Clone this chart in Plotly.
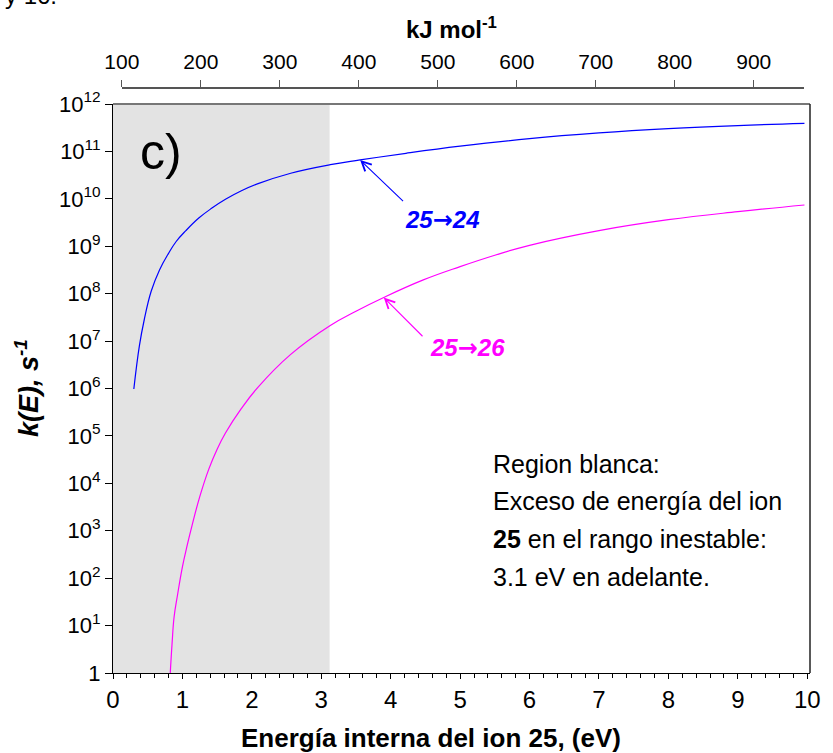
import plotly.graph_objects as go

# ---- data ----
e_24 = [0.30, 0.38, 0.45, 0.55, 0.67, 0.80, 0.91, 1.05, 1.24, 1.42, 1.62, 1.85, 2.09, 2.56,
        3.13, 3.56, 4.22, 5.0, 6.0, 7.0, 8.0, 9.0, 9.96]
logk_24 = [5.99, 6.9, 7.45, 8.05, 8.5, 8.85, 9.1, 9.33, 9.6, 9.8, 9.99, 10.17, 10.32, 10.54,
           10.72, 10.82, 10.96, 11.11, 11.27, 11.39, 11.48, 11.545, 11.59]
e_26 = [0.825, 0.85, 0.88, 0.93, 1.0, 1.07, 1.14, 1.25, 1.38, 1.5, 1.62, 1.85, 2.09, 2.56,
        3.13, 3.5, 3.9, 4.47, 5.0, 5.5, 6.0, 7.0, 8.0, 9.0, 9.96]
logk_26 = [0.0, 0.6, 1.18, 1.65, 2.24, 2.7, 3.12, 3.72, 4.30, 4.72, 5.06, 5.58, 6.03, 6.72,
           7.33, 7.63, 7.92, 8.29, 8.57, 8.81, 9.02, 9.33, 9.56, 9.73, 9.87]
k_24 = [10 ** v for v in logk_24]
k_26 = [10 ** v for v in logk_26]

x_ticks = list(range(0, 11))
y_exps = list(range(0, 13))
y_tickvals = [10 ** p for p in y_exps]
y_ticktext = ["1"] + ["10<sup>%d</sup>" % p for p in y_exps[1:]]
kj_ticks = [100, 200, 300, 400, 500, 600, 700, 800, 900]
unstable_from = 3.12

FONT = "Liberation Sans, Arial, sans-serif"

# layout geometry helpers (pixels -> paper)
L, R, T, B = 113, 14, 88, 80
W, H = 833, 753
PW, PH = W - L - R, H - T - B
def px(x):
    return (x - L) / PW
def py(y):
    return (H - B - y) / PH
plot_top = 104

fig = go.Figure()
fig.add_trace(go.Scatter(x=e_24, y=k_24, mode="lines",
                         line=dict(color="#0000ff", width=1.2, shape="spline", smoothing=1.2),
                         showlegend=False, hoverinfo="skip"))
fig.add_trace(go.Scatter(x=e_26, y=k_26, mode="lines",
                         line=dict(color="#ff00ff", width=1.2, shape="spline", smoothing=1.2),
                         showlegend=False, hoverinfo="skip"))
# invisible trace to carry the top (kJ/mol) axis
fig.add_trace(go.Scatter(x=kj_ticks, y=[1] * len(kj_ticks), xaxis="x2", yaxis="y", mode="markers",
                         marker=dict(opacity=0), showlegend=False, hoverinfo="skip"))

fig.update_layout(
    width=W, height=H,
    margin=dict(l=L, r=R, t=T, b=B),
    paper_bgcolor="white", plot_bgcolor="rgba(0,0,0,0)",
    font=dict(family=FONT, color="black"),
    xaxis=dict(range=[0, 10.04], tickvals=x_ticks, ticks="outside", ticklen=5, tickwidth=1,
               tickcolor="black", showline=True, linecolor="black", linewidth=1,
               showgrid=False, zeroline=False, tickfont=dict(size=24, family=FONT),
               minor=dict(dtick=0.2, ticks="outside", ticklen=4, tickcolor="black", showgrid=False),
               anchor="y"),
    yaxis=dict(type="log", range=[0, 12], domain=[0, py(plot_top)], tickvals=y_tickvals,
               ticktext=y_ticktext, ticks="outside", ticklen=7, tickwidth=1, tickcolor="black",
               showline=True, linecolor="black", linewidth=1, showgrid=False, zeroline=False,
               tickfont=dict(size=22, family=FONT)),
    xaxis2=dict(range=[100, 963.75], domain=[px(122), px(813)],
                anchor="free", position=1, side="top", tickvals=kj_ticks, ticks="outside",
                ticklen=7, tickcolor="#555555", showline=True, linecolor="#555555", linewidth=1.5,
                showgrid=False, zeroline=False, tickfont=dict(size=21, family=FONT),
                ticklabelstandoff=3),
)

# shaded (unstable) region
fig.add_shape(type="rect", xref="x", yref="y domain", x0=0, x1=unstable_from, y0=0, y1=1,
              fillcolor="#e3e3e3", line=dict(width=0), layer="below")
# frame: gray top, dark right
fig.add_shape(type="line", xref="x domain", yref="y domain", x0=0, x1=1, y0=1, y1=1,
              line=dict(color="#777777", width=2))
fig.add_shape(type="line", xref="x domain", yref="y domain", x0=1, x1=1, y0=0, y1=1,
              line=dict(color="#222222", width=1.5))

ARW = "<span style=\"font-family:'DejaVu Sans'\">→</span>"

ann = []
ann.append(dict(text="c)", x=px(162), y=py(152), xref="paper", yref="paper", showarrow=False,
                font=dict(size=50, family=FONT), xanchor="center", yanchor="middle"))
ann.append(dict(text="<b>kJ mol<sup>-1</sup></b>", x=px(456), y=py(28), xref="paper", yref="paper",
                showarrow=False, font=dict(size=24, family=FONT), xanchor="center", yanchor="middle"))
ann.append(dict(text="<b>Energía interna del ion 25, (eV)</b>", x=px(435), y=py(738), xref="paper",
                yref="paper", showarrow=False, font=dict(size=26, family=FONT),
                xanchor="center", yanchor="middle"))
ann.append(dict(text="<b><i>k(E), s<sup>-1</sup></i></b>", x=px(26), y=py(388), xref="paper",
                yref="paper", showarrow=False, textangle=-90, font=dict(size=27, family=FONT),
                xanchor="center", yanchor="middle"))
# arrows
ann.append(dict(text="", x=3.56, y=10.82, xref="x", yref="y", ax=4.20, ay=9.92, axref="x", ayref="y",
                showarrow=True, arrowhead=5, arrowsize=1.7, arrowwidth=1.1, arrowcolor="#0000ff"))
ann.append(dict(text="", x=3.90, y=7.92, xref="x", yref="y", ax=4.48, ay=7.07, axref="x", ayref="y",
                showarrow=True, arrowhead=5, arrowsize=1.7, arrowwidth=1.1, arrowcolor="#ff00ff"))
ann.append(dict(text="<b><i>25" + ARW + "24</i></b>", x=4.75, y=9.56, xref="x", yref="y",
                showarrow=False, font=dict(size=24, color="#0000ff", family=FONT),
                xanchor="center", yanchor="middle"))
ann.append(dict(text="<b><i>25" + ARW + "26</i></b>", x=5.11, y=6.86, xref="x", yref="y",
                showarrow=False, font=dict(size=24, color="#ff00ff", family=FONT),
                xanchor="center", yanchor="middle"))
# note text
note_lines = ["Region blanca:", "Exceso de energía del ion", "<b>25</b> en el rango inestable:",
              "3.1 eV en adelante."]
for i, line in enumerate(note_lines):
    ann.append(dict(text=line, x=px(496), y=py(464 + 37.5 * i), xref="paper", yref="paper",
                    showarrow=False, font=dict(size=25, family=FONT), xanchor="left",
                    yanchor="middle"))
# cut-off text fragment at the very top
ann.append(dict(text="y 16.", x=px(2), y=py(-4), xref="paper", yref="paper", showarrow=False,
                font=dict(size=24, family=FONT), xanchor="left", yanchor="middle"))
fig.update_layout(annotations=ann)

fig.write_html("out.html")
